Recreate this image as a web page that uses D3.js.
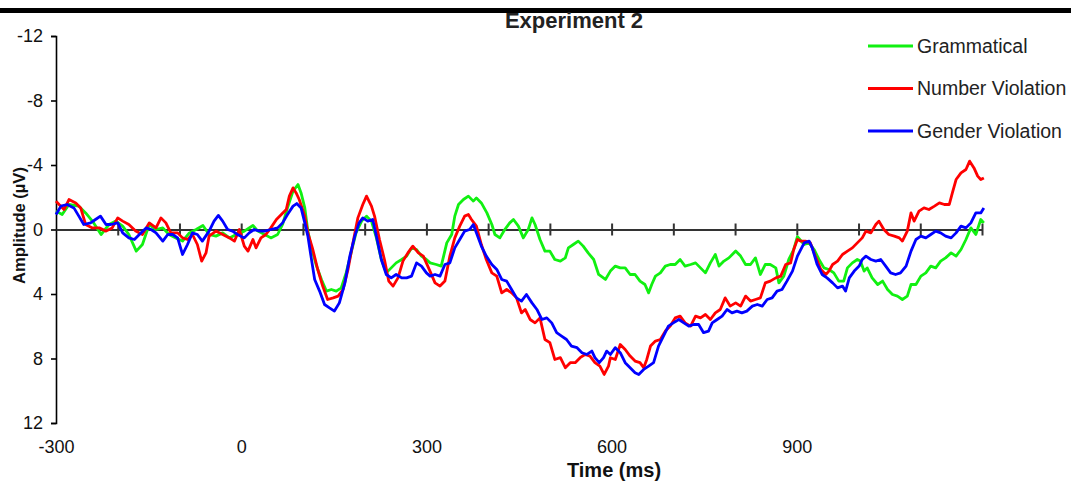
<!DOCTYPE html>
<html><head><meta charset="utf-8">
<script src="https://cdn.jsdelivr.net/npm/d3@7"></script>
<style>body{margin:0;background:#fff}svg{display:block}text{font-family:"Liberation Sans",Arial,sans-serif}</style>
</head><body><svg id="c" width="1071" height="482"></svg>
<script>
const title = "Experiment 2";
const xLabel = "Time (ms)";
const yLabel = "Amplitude (µV)";
const seriesNames = ["Grammatical","Number Violation","Gender Violation"];
const seriesColors = ["#11f011","#ff0000","#0000ff"];
const xTickLabels = [-300,0,300,600,900];
const xMinorTicks = [-200,-100,0,100,200,300,400,500,600,700,800,900,1000,1100,1200];
const yTickLabels = [-12,-8,-4,0,4,8,12];

const grammatical = [[-300,-1.14],[-290,-0.93],[-279,-1.55],[-263,-1.45],[-252,-1.03],[-241,-0.52],[-227,0.31],[-214,-0.31],[-203,-0.52],[-192,-0.21],[-182,0.31],[-170,1.34],[-160,0.93],[-149,-0.31],[-138,0],[-127,-0.1],[-117,0.31],[-106,0.52],[-95,0.72],[-84,0.21],[-73,0],[-62,-0.25],[-52,0.31],[-41,0.41],[-30,0.21],[-19,0.52],[-8,0.31],[5,0.1],[19,-0.25],[27,0.1],[38,0.31],[48,0.52],[59,0.31],[67,-0.31],[75,-1.34],[84,-2.38],[92,-2.79],[97,-2.27],[103,-1.34],[108,0.1],[113,1.03],[122,2.27],[130,3.1],[138,3.82],[146,3.72],[154,3.82],[162,3.62],[170,2.69],[178,1.45],[186,0.21],[195,-0.52],[203,-0.83],[211,-0.52],[219,0.52],[227,1.86],[235,2.69],[243,2.38],[251,2.07],[260,1.86],[268,1.65],[276,1.14],[284,1.24],[292,1.65],[300,1.86],[306,2.07],[316,2.17],[324,2.27],[333,0.83],[341,0.31],[346,-0.83],[352,-1.55],[360,-1.86],[368,-2.07],[376,-1.76],[381,-1.96],[389,-1.65],[398,-1.03],[406,-0.31],[411,0.31],[419,0.52],[427,0],[435,-0.41],[441,-0.62],[449,-0.21],[457,0.52],[465,0],[471,-0.72],[476,-0.31],[484,0.62],[492,1.34],[500,1.34],[508,1.86],[517,1.96],[525,1.76],[530,1.14],[538,0.93],[546,0.72],[554,1.03],[562,1.45],[571,1.86],[579,2.79],[590,3.1],[598,2.58],[606,2.27],[614,2.38],[622,2.38],[630,2.79],[638,2.79],[646,3.2],[654,3.41],[660,3.93],[665,3.41],[671,2.89],[679,2.69],[687,2.27],[695,2.17],[703,2.17],[711,1.86],[719,2.27],[728,2.17],[736,2.07],[744,2.38],[752,2.69],[760,2.07],[768,1.55],[774,2.27],[782,1.96],[790,1.76],[801,1.34],[809,1.65],[817,2.17],[825,2.17],[833,1.76],[841,2.79],[849,2.17],[857,2.17],[866,2.38],[871,3.31],[879,2.89],[887,1.86],[895,1.24],[901,0.45],[912,0.93],[920,0.83],[928,1.24],[936,1.86],[944,2.38],[952,2.48],[960,2.69],[968,3.2],[976,3.2],[982,2.38],[990,2.07],[998,1.86],[1003,1.96],[1009,2.58],[1014,2.38],[1022,3.0],[1031,3.41],[1039,3.2],[1047,3.72],[1055,4.03],[1063,4.13],[1071,4.34],[1079,4.13],[1085,3.41],[1093,3.41],[1101,2.89],[1109,2.69],[1117,2.27],[1125,2.38],[1133,1.96],[1141,1.76],[1150,1.45],[1158,1.65],[1166,1.24],[1174,0.62],[1182,-0.1],[1190,0.31],[1198,-0.62],[1203,-0.41]];

const numberViolation = [[-300,-1.76],[-295,-1.55],[-287,-1.24],[-279,-1.86],[-268,-1.65],[-260,-1.34],[-252,-0.31],[-241,-0.1],[-230,-0.1],[-219,0.1],[-209,-0.1],[-200,-0.72],[-192,-0.52],[-182,-0.31],[-171,0.1],[-160,0.31],[-149,-0.41],[-138,-0.1],[-130,-0.72],[-122,-0.41],[-114,0.21],[-103,0.21],[-95,0.52],[-87,0.62],[-79,0.31],[-71,0.93],[-64,1.96],[-57,1.45],[-52,0.41],[-41,0.1],[-30,0.31],[-19,0.52],[-11,0.72],[-3,0],[5,1.03],[11,1.34],[19,0.62],[24,1.14],[32,0.52],[40,0.31],[48,-0.1],[57,-0.62],[65,-0.93],[73,-1.24],[78,-2.07],[84,-2.58],[89,-2.27],[94,-1.86],[103,-0.83],[108,0.21],[116,1.24],[124,2.48],[132,3.51],[140,4.34],[149,4.24],[157,4.13],[165,3.72],[173,2.48],[181,0.83],[189,-0.72],[197,-1.55],[203,-2.07],[211,-1.45],[216,-0.83],[224,0.62],[232,1.86],[239,3.2],[246,3.51],[254,3.0],[262,1.96],[270,1.45],[278,1.03],[287,1.45],[295,1.65],[306,2.6],[314,3.31],[322,3.51],[330,3.2],[338,1.65],[346,0.52],[354,-0.21],[362,-0.83],[368,-0.93],[373,-0.62],[381,-0.21],[389,0.93],[397,1.86],[406,2.69],[414,2.89],[422,3.93],[430,3.72],[438,3.93],[446,4.24],[454,5.17],[460,4.96],[468,5.58],[476,5.79],[484,5.48],[492,6.82],[500,7.02],[508,8.06],[517,7.95],[525,8.57],[533,8.26],[541,8.26],[549,7.95],[557,7.75],[565,7.85],[573,8.26],[581,8.47],[588,8.99],[595,8.47],[598,7.95],[606,8.06],[614,7.13],[622,7.44],[630,7.85],[638,8.16],[646,8.26],[652,8.57],[657,8.06],[663,7.23],[671,6.92],[679,6.82],[687,6.3],[695,5.99],[703,5.48],[711,5.37],[719,5.79],[728,5.99],[736,5.37],[744,5.48],[752,5.27],[760,5.58],[768,5.17],[776,4.96],[784,4.24],[792,4.75],[801,4.55],[809,4.75],[817,4.13],[825,4.44],[833,4.34],[841,4.24],[849,3.31],[857,3.2],[866,3.0],[874,2.89],[882,2.17],[890,2.07],[895,1.24],[901,0.62],[906,0.72],[914,0.72],[922,0.83],[930,1.65],[939,2.48],[947,2.79],[952,2.58],[958,2.17],[966,1.96],[974,1.55],[982,1.34],[990,1.14],[998,0.83],[1006,0.52],[1012,0.1],[1020,0.21],[1028,-0.31],[1033,-0.52],[1041,0],[1049,0.31],[1058,0.41],[1066,0.52],[1071,0.72],[1079,0.1],[1085,-1.03],[1090,-0.52],[1098,-1.14],[1106,-1.34],[1114,-1.24],[1123,-1.45],[1131,-1.65],[1139,-1.55],[1147,-1.55],[1152,-2.27],[1158,-3.1],[1166,-3.51],[1174,-3.72],[1180,-4.24],[1187,-3.82],[1193,-3.31],[1198,-3.1],[1203,-3.2]];

const genderViolation = [[-300,-0.93],[-292,-1.45],[-282,-1.55],[-271,-1.34],[-263,-0.83],[-255,-0.31],[-244,-0.41],[-236,-0.62],[-228,-0.83],[-219,-0.31],[-211,-0.31],[-200,-0.41],[-192,0.21],[-182,0.52],[-173,0.62],[-165,0.31],[-154,-0.1],[-146,0],[-138,0.21],[-127,0.72],[-119,0.31],[-111,0.31],[-103,0.52],[-95,1.55],[-87,0.93],[-79,0.21],[-71,0.31],[-63,0.72],[-52,0.1],[-44,-0.52],[-37,-0.87],[-30,-0.52],[-22,0],[-14,0.1],[-6,0.31],[5,0.52],[13,0.21],[21,0],[30,0.1],[38,0.1],[48,0],[59,-0.1],[67,-0.41],[75,-0.93],[84,-1.45],[90,-1.61],[97,-1.34],[103,-0.41],[108,0.41],[113,1.65],[119,3.1],[127,3.82],[135,4.65],[143,4.86],[151,5.06],[159,4.55],[168,3.31],[176,1.65],[184,0.41],[191,-0.41],[197,-0.72],[205,-0.52],[213,-0.62],[219,0.41],[227,1.86],[235,2.79],[243,3.0],[251,2.79],[260,3.0],[268,3.0],[276,2.89],[284,2.07],[292,2.27],[300,2.69],[306,2.89],[314,2.79],[322,2.89],[330,2.17],[338,2.07],[346,1.14],[354,0.62],[362,0.1],[370,0],[376,-0.31],[381,0.21],[389,1.03],[397,1.65],[406,2.17],[414,2.48],[422,3.1],[430,3.2],[438,3.72],[446,4.24],[454,4.44],[462,4.03],[471,4.55],[479,4.96],[487,5.58],[495,5.48],[503,5.79],[511,6.4],[519,6.61],[527,6.82],[535,7.23],[544,7.33],[552,7.64],[560,7.75],[568,7.54],[573,7.95],[580,8.26],[587,7.95],[592,7.54],[598,7.75],[606,7.33],[614,7.64],[622,8.26],[630,8.57],[638,8.88],[644,8.99],[652,8.68],[660,8.47],[668,8.26],[676,7.23],[684,6.61],[692,5.99],[700,5.79],[709,5.58],[717,5.79],[725,5.99],[733,5.89],[741,5.89],[749,6.4],[757,6.3],[763,5.79],[771,5.58],[779,5.37],[787,4.96],[795,5.17],[803,5.06],[811,5.17],[819,5.06],[828,4.75],[836,4.65],[844,4.75],[852,4.34],[860,4.24],[868,3.82],[876,3.72],[884,3.2],[893,2.58],[901,1.65],[912,0.83],[920,0.72],[925,1.14],[933,2.17],[941,2.79],[949,3.0],[958,3.31],[966,3.62],[974,3.51],[979,3.82],[985,3.0],[993,2.58],[1001,2.27],[1006,1.86],[1012,1.65],[1020,1.86],[1028,1.96],[1036,1.86],[1044,2.27],[1052,2.69],[1060,2.79],[1068,2.69],[1077,2.27],[1085,1.34],[1093,0.62],[1101,0.41],[1109,0.52],[1117,0.31],[1125,0.1],[1133,0.21],[1141,0.41],[1150,0.52],[1158,0.21],[1166,-0.21],[1174,-0.1],[1182,-0.41],[1190,-1.03],[1198,-1.03],[1203,-1.34]];

const allSeries = [grammatical, numberViolation, genderViolation];

const svg = d3.select("#c");
svg.append("rect").attr("x",0).attr("y",0).attr("width",1071).attr("height",482).attr("fill","#fff");
svg.append("rect").attr("x",0).attr("y",8).attr("width",1071).attr("height",5).attr("fill","#000");

const x = d3.scaleLinear().domain([-300,1200]).range([56,982]);
const y = d3.scaleLinear().domain([-12,12]).range([36,423]);

svg.append("text").attr("x",574).attr("y",28).attr("text-anchor","middle")
  .attr("font-weight","bold").attr("font-size",22).attr("fill","#222").text(title);

const yAxis = svg.append("g").attr("transform",`translate(${x(-300)},0)`)
  .call(d3.axisLeft(y).tickValues(yTickLabels).tickSize(5).tickPadding(8).tickFormat(d=>String(d)));
yAxis.select(".domain").attr("stroke","#000").attr("stroke-width",1.6);
yAxis.selectAll(".tick line").attr("stroke","#000").attr("stroke-width",1.6);
yAxis.selectAll(".tick text").attr("font-size",18).attr("fill","#111").attr("font-family","Liberation Sans, Arial, sans-serif");

const zAxis = svg.append("g").attr("transform",`translate(0,${y(0)})`)
  .call(d3.axisBottom(x).tickValues(xMinorTicks).tickSizeInner(6).tickSizeOuter(0).tickFormat(""));
zAxis.select(".domain").attr("stroke","#333").attr("stroke-width",2);
zAxis.selectAll(".tick line").attr("stroke","#333").attr("stroke-width",2).attr("y1",-6);

const bAxis = svg.append("g").attr("transform",`translate(0,${y(12)})`)
  .call(d3.axisBottom(x).tickValues(xTickLabels).tickSize(0).tickPadding(17).tickFormat(d=>String(d)));
bAxis.select(".domain").remove();
bAxis.selectAll(".tick text").attr("font-size",18).attr("fill","#111").attr("font-family","Liberation Sans, Arial, sans-serif");

svg.append("text").attr("x",614).attr("y",477).attr("text-anchor","middle")
  .attr("font-weight","bold").attr("font-size",20).attr("fill","#111").text(xLabel);
svg.append("text").attr("transform",`translate(25,${y(0)-4}) rotate(-90)`).attr("text-anchor","middle")
  .attr("font-weight","bold").attr("font-size",16.5).attr("fill","#111").text(yLabel);

const line = d3.line().x(d=>x(d[0])).y(d=>y(d[1])).curve(d3.curveLinear);
allSeries.forEach((s,i)=>{
  svg.append("path").datum(s).attr("d",line).attr("fill","none")
    .attr("stroke",seriesColors[i]).attr("stroke-width",2.8).attr("stroke-linejoin","round");
});

const lg = svg.append("g");
seriesNames.forEach((n,i)=>{
  const yy = 46 + i*42.5;
  lg.append("line").attr("x1",868).attr("x2",913).attr("y1",yy).attr("y2",yy)
    .attr("stroke",seriesColors[i]).attr("stroke-width",2.8);
  lg.append("text").attr("x",917).attr("y",yy+6.5).attr("font-size",19.5).attr("fill","#222").text(n);
});
</script></body></html>
